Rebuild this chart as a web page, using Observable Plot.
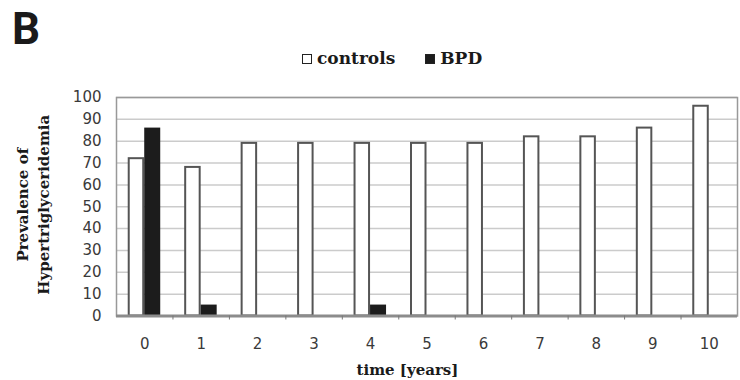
<!DOCTYPE html>
<html>
<head>
<meta charset="utf-8">
<script src="https://cdn.jsdelivr.net/npm/d3@7"></script>
<script src="https://cdn.jsdelivr.net/npm/@observablehq/plot@0.6"></script>
<style>
  body { margin: 0; background: #fff; width: 740px; }
  #head { position: relative; height: 80px; }
  #panel { position: absolute; left: 12px; top: 7px; font: bold 44px Roboto, sans-serif; line-height: 44px; color: #1a1a1a; }
  #legend { position: absolute; left: 302px; top: 50px; display: flex; align-items: center;
            font: bold 17px "DejaVu Serif", serif; line-height: 17px; color: #1a1a1a; }
  #legend .item { display: flex; align-items: center; margin-right: 30px; }
  #legend .sw { width: 8px; height: 8px; border: 1.5px solid #222; margin-right: 5px; }
</style>
</head>
<body>
<div id="head">
  <div id="panel">B</div>
  <div id="legend"></div>
</div>
<div id="chart"></div>
<script>
// Follow-up years
const years = [0, 1, 2, 3, 4, 5, 6, 7, 8, 9, 10];
// Prevalence of hypertriglyceridemia (%)
const controls = [72, 68, 79, 79, 79, 79, 79, 82, 82, 86, 96];
const bpd = [86, 5, 0, 0, 5, 0, 0, 0, 0, 0, 0];
const seriesNames = ["controls", "BPD"];
const seriesFills = ["#ffffff", "#1c1c1c"];
const yTicks = [0, 10, 20, 30, 40, 50, 60, 70, 80, 90, 100];
const xTitle = "time [years]";
const yTitle = "Prevalence of\nHypertriglyceridemia";

// Legend
const legend = d3.select("#legend");
seriesNames.forEach((name, i) => {
  const item = legend.append("div").attr("class", "item");
  item.append("div").attr("class", "sw").style("background", seriesFills[i]);
  item.append("span").text(name);
});

const rows = years.flatMap((t, i) => [
  {year: t, series: seriesNames[0], value: controls[i]},
  {year: t, series: seriesNames[1], value: bpd[i]}
]);

const width = 740, height = 300;
const marginLeft = 116, marginRight = 3, marginTop = 17, marginBottom = 64.5;
const bw = (width - marginLeft - marginRight) / years.length;
const barW = 15.5;

const serif = "DejaVu Serif";

const chart = Plot.plot({
  width, height, marginLeft, marginRight, marginTop, marginBottom,
  style: {fontFamily: "DejaVu Sans", fontSize: "15px", background: "#fff"},
  x: {type: "band", domain: years, padding: 0, round: false, label: null},
  y: {domain: [0, 100], label: null},
  marks: [
    Plot.gridY(yTicks, {stroke: "#cbcbcb", strokeOpacity: 1, strokeWidth: 1.5}),
    Plot.barY(rows.filter(d => d.series === seriesNames[0]), {
      x: "year", y: "value", fill: seriesFills[0], stroke: "#555", strokeWidth: 2,
      insetLeft: bw / 2 - barW, insetRight: bw / 2 + 1
    }),
    Plot.barY(rows.filter(d => d.series === seriesNames[1]), {
      x: "year", y: "value", fill: seriesFills[1],
      insetLeft: bw / 2, insetRight: bw / 2 - barW - 0.5
    }),
    Plot.frame({stroke: "#999", strokeWidth: 1.5}),
    Plot.ruleY([0], {stroke: "#8c8c8c", strokeWidth: 3}),
    Plot.axisX({ticks: years.slice(0, -1), text: null, label: null, tickSize: 4, dx: bw / 2, stroke: "#777"}),
    Plot.axisX({tickSize: 0, tickPadding: 22, fill: "#3a3a3a", label: null}),
    Plot.axisY({ticks: yTicks, tickSize: 0, tickPadding: 15, fill: "#3a3a3a", label: null}),
    Plot.text([xTitle], {
      text: d => d, frameAnchor: "bottom", lineAnchor: "middle", dy: 54, dx: -19.5,
      fontFamily: serif, fontWeight: "bold", fontSize: 15, fill: "#1a1a1a"
    }),
    Plot.text([yTitle], {
      text: d => d, frameAnchor: "left", textAnchor: "middle", lineAnchor: "middle",
      rotate: -90, dx: -84.5, dy: -2,
      lineHeight: 1.4, fontFamily: serif, fontWeight: "bold", fontSize: 15, fill: "#1a1a1a"
    })
  ]
});

document.getElementById("chart").appendChild(chart);
</script>
</body>
</html>
